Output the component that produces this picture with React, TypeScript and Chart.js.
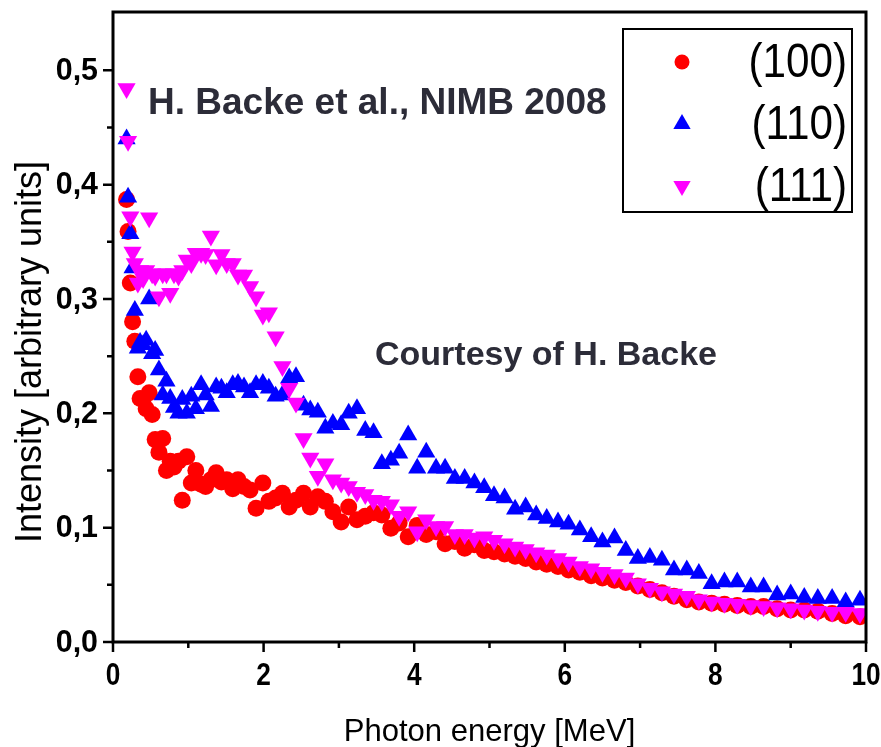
import React, { useEffect, useRef } from 'react';
import { Chart, registerables } from 'chart.js';

Chart.register(...registerables);

// Photon energy bins [MeV]
const energies = [
  0.18, 0.20, 0.23, 0.26, 0.29, 0.33, 0.36, 0.40, 0.44, 0.48,
  0.52, 0.56, 0.61, 0.66, 0.71, 0.76, 0.81, 0.87, 0.92, 0.98,
  1.04, 1.10, 1.17, 1.23, 1.30, 1.37, 1.44, 1.51, 1.59, 1.66,
  1.74, 1.82, 1.90, 1.99, 2.07, 2.16, 2.25, 2.34, 2.43, 2.53,
  2.62, 2.72, 2.82, 2.92, 3.03, 3.13, 3.24, 3.35, 3.46, 3.57,
  3.69, 3.80, 3.92, 4.04, 4.16, 4.29, 4.41, 4.54, 4.67, 4.80,
  4.93, 5.06, 5.20, 5.34, 5.48, 5.62, 5.76, 5.91, 6.05, 6.20,
  6.35, 6.50, 6.66, 6.81, 6.97, 7.13, 7.29, 7.45, 7.62, 7.78,
  7.95, 8.12, 8.29, 8.47, 8.64, 8.82, 9.00, 9.18, 9.36, 9.55,
  9.73, 9.92,
];

// (100) intensity
const intensity100 = [
  0.387, 0.359, 0.314, 0.280, 0.263, 0.232, 0.213, 0.212, 0.204, 0.218,
  0.199, 0.177, 0.166, 0.178, 0.150, 0.158, 0.153, 0.158, 0.124, 0.162,
  0.139, 0.150, 0.138, 0.136, 0.142, 0.148, 0.140, 0.142, 0.134, 0.142,
  0.136, 0.133, 0.117, 0.139, 0.123, 0.126, 0.130, 0.118, 0.124, 0.130,
  0.118, 0.127, 0.123, 0.114, 0.105, 0.118, 0.107, 0.110, 0.113, 0.111,
  0.0995, 0.104, 0.092, 0.102, 0.094, 0.0965, 0.086, 0.088, 0.082, 0.085,
  0.080, 0.079, 0.077, 0.075, 0.073, 0.070, 0.068, 0.066, 0.063, 0.061,
  0.058, 0.056, 0.054, 0.052, 0.049, 0.046, 0.043, 0.040, 0.037, 0.035,
  0.034, 0.033, 0.032, 0.031, 0.031, 0.029, 0.028, 0.028, 0.027, 0.025,
  0.023, 0.022,
];

// (110) intensity
const intensity110 = [
  0.440, 0.389, 0.357, 0.327, 0.290, 0.257, 0.262, 0.260, 0.264, 0.300,
  0.252, 0.255, 0.238, 0.216, 0.228, 0.213, 0.205, 0.200, 0.212, 0.200,
  0.215, 0.204, 0.225, 0.216, 0.206, 0.223, 0.222, 0.218, 0.225, 0.226,
  0.223, 0.218, 0.225, 0.226, 0.222, 0.215, 0.216, 0.231, 0.232, 0.207,
  0.203, 0.201, 0.187, 0.191, 0.190, 0.200, 0.204, 0.185, 0.183, 0.156,
  0.159, 0.165, 0.181, 0.152, 0.166, 0.152, 0.152, 0.143, 0.143, 0.139,
  0.135, 0.128, 0.126, 0.116, 0.118, 0.111, 0.108, 0.105, 0.103, 0.098,
  0.092, 0.0875, 0.091, 0.080, 0.073, 0.074, 0.0715, 0.063, 0.063, 0.060,
  0.051, 0.0525, 0.0525, 0.048, 0.048, 0.041, 0.042, 0.039, 0.038, 0.038,
  0.035, 0.0365,
];

// (111) intensity
const intensity111 = [
  0.484, 0.438, 0.372, 0.341, 0.331, 0.314, 0.325, 0.318, 0.325, 0.371,
  0.322, 0.320, 0.302, 0.322, 0.322, 0.305, 0.322, 0.320, 0.325, 0.334,
  0.331, 0.340, 0.340, 0.339, 0.355, 0.330, 0.339, 0.331, 0.331, 0.321,
  0.321, 0.311, 0.302, 0.286, 0.288, 0.267, 0.241, 0.222, 0.209, 0.178,
  0.161, 0.145, 0.156, 0.142, 0.139, 0.136, 0.131, 0.129, 0.124, 0.123,
  0.120, 0.110, 0.114, 0.0965, 0.107, 0.101, 0.101, 0.094, 0.094, 0.091,
  0.092, 0.089, 0.086, 0.083, 0.081, 0.078, 0.076, 0.073, 0.070, 0.066,
  0.064, 0.061, 0.059, 0.056, 0.051, 0.047, 0.044, 0.042, 0.040, 0.037,
  0.035, 0.034, 0.033, 0.032, 0.031, 0.030, 0.029, 0.028, 0.027, 0.026,
  0.026, 0.025,
];

const seriesLabels = ['(100)', '(110)', '(111)'];
const seriesColors = ['#ff0000', '#0000ff', '#ff00ff'];

const xMajorTicks = [0, 2, 4, 6, 8, 10];
const xMinorTicks = [1, 3, 5, 7, 9];
const yMajorTicks = [0, 0.1, 0.2, 0.3, 0.4, 0.5];
const yMinorTicks = [0.05, 0.15, 0.25, 0.35, 0.45];
const yTickLabels = ['0,0', '0,1', '0,2', '0,3', '0,4', '0,5'];

const xTitle = 'Photon energy [MeV]';
const yTitle = 'Intensity [arbitrary units]';
const annotation1 = 'H. Backe et al., NIMB 2008';
const annotation2 = 'Courtesy of H. Backe';

const FONT = '"Liberation Sans", Arial, sans-serif';

function drawText(
  ctx: CanvasRenderingContext2D,
  text: string,
  x: number,
  y: number,
  font: string,
  align: CanvasTextAlign,
  sx: number,
  color: string,
  baseline: CanvasTextBaseline = 'middle',
  rotate = 0
) {
  ctx.save();
  ctx.translate(x, y);
  if (rotate) ctx.rotate(rotate);
  ctx.scale(sx, 1);
  ctx.font = font;
  ctx.fillStyle = color;
  ctx.textAlign = align;
  ctx.textBaseline = baseline;
  ctx.fillText(text, 0, 0);
  ctx.restore();
}

function drawMarker(ctx: CanvasRenderingContext2D, style: string, x: number, y: number, r: number, color: string, rot: number) {
  ctx.save();
  ctx.fillStyle = color;
  ctx.beginPath();
  if (style === 'circle') {
    ctx.arc(x, y, r, 0, Math.PI * 2);
  } else {
    const dir = rot === 180 ? -1 : 1;
    ctx.moveTo(x, y - dir * r);
    ctx.lineTo(x + r * Math.sin(Math.PI / 3), y + dir * r / 2);
    ctx.lineTo(x - r * Math.sin(Math.PI / 3), y + dir * r / 2);
    ctx.closePath();
  }
  ctx.fill();
  ctx.restore();
}

const originPlugin = {
  id: 'originDecor',
  afterDatasetsDraw(chart: any) {
    const { ctx, chartArea: a, scales } = chart;
    const xs = scales.x;
    const ys = scales.y;
    ctx.save();
    // frame
    ctx.strokeStyle = '#000';
    ctx.lineWidth = 3;
    ctx.strokeRect(a.left, a.top, a.right - a.left, a.bottom - a.top);
    ctx.lineWidth = 2.5;
    ctx.beginPath();
    xMajorTicks.forEach((v) => {
      const px = xs.getPixelForValue(v);
      ctx.moveTo(px, a.bottom);
      ctx.lineTo(px, a.bottom + 10);
    });
    xMinorTicks.forEach((v) => {
      const px = xs.getPixelForValue(v);
      ctx.moveTo(px, a.bottom);
      ctx.lineTo(px, a.bottom + 6);
    });
    yMajorTicks.forEach((v) => {
      const py = ys.getPixelForValue(v);
      ctx.moveTo(a.left, py);
      ctx.lineTo(a.left - 10, py);
    });
    yMinorTicks.forEach((v) => {
      const py = ys.getPixelForValue(v);
      ctx.moveTo(a.left, py);
      ctx.lineTo(a.left - 6, py);
    });
    ctx.stroke();

    // tick labels
    xMajorTicks.forEach((v) => {
      drawText(ctx, String(v), xs.getPixelForValue(v), a.bottom + 34, `bold 32px ${FONT}`, 'center', 0.82, '#000');
    });
    yMajorTicks.forEach((v, i) => {
      drawText(ctx, yTickLabels[i], a.left - 15, ys.getPixelForValue(v) + 1, `bold 32px ${FONT}`, 'right', 0.95, '#000');
    });

    // axis titles
    drawText(ctx, xTitle, (a.left + a.right) / 2, 741, `32px ${FONT}`, 'center', 0.97, '#000', 'alphabetic');
    drawText(ctx, yTitle, 41, (a.top + a.bottom) / 2 + 25, `36px ${FONT}`, 'center', 1, '#000', 'alphabetic', -Math.PI / 2);

    // annotations
    drawText(ctx, annotation1, a.left + 35, a.top + 102, `bold 37px ${FONT}`, 'left', 1, '#2c2c38', 'alphabetic');
    drawText(ctx, annotation2, a.left + 262, a.top + 353, `bold 34px ${FONT}`, 'left', 1, '#2c2c38', 'alphabetic');

    // legend
    const lx = a.left + 510;
    const ly = a.top + 17;
    const lw = 229;
    const lh = 183;
    ctx.fillStyle = '#fff';
    ctx.fillRect(lx, ly, lw, lh);
    ctx.lineWidth = 2;
    ctx.strokeStyle = '#000';
    ctx.strokeRect(lx, ly, lw, lh);
    chart.data.datasets.forEach((ds: any, i: number) => {
      const rowY = ly + 33 + i * 62;
      drawMarker(ctx, ds.pointStyle, lx + 59, rowY, ds.pointStyle === 'circle' ? 7.5 : 10, ds.backgroundColor, ds.rotation || 0);
      drawText(ctx, ds.label, lx + lw - 5, rowY + 2, `48px ${FONT}`, 'right', 0.88, '#000');
    });
    ctx.restore();
  },
};

function makeData(values: number[]) {
  return energies.map((e, i) => ({ x: e, y: values[i] }));
}

export default function App() {
  const canvasRef = useRef<HTMLCanvasElement | null>(null);

  useEffect(() => {
    const canvas = canvasRef.current;
    if (!canvas) return;
    const chart = new Chart(canvas, {
      type: 'scatter',
      data: {
        datasets: [
          {
            label: seriesLabels[0],
            data: makeData(intensity100),
            pointStyle: 'circle',
            backgroundColor: seriesColors[0],
            borderColor: seriesColors[0],
            borderWidth: 0,
            pointRadius: 8.5,
            order: 2,
          },
          {
            label: seriesLabels[1],
            data: makeData(intensity110),
            pointStyle: 'triangle',
            backgroundColor: seriesColors[1],
            borderColor: seriesColors[1],
            borderWidth: 0,
            pointRadius: 10.5,
            order: 1,
          },
          {
            label: seriesLabels[2],
            data: makeData(intensity111),
            pointStyle: 'triangle',
            rotation: 180,
            backgroundColor: seriesColors[2],
            borderColor: seriesColors[2],
            borderWidth: 0,
            pointRadius: 10.5,
            order: 0,
          },
        ] as any,
      },
      options: {
        responsive: false,
        animation: false,
        layout: { padding: { left: 113, top: 12, right: 15, bottom: 105 } },
        plugins: { legend: { display: false }, tooltip: { enabled: false } },
        scales: {
          x: { type: 'linear', min: 0, max: 10, display: false },
          y: { type: 'linear', min: 0, max: 0.551, display: false },
        },
      },
      plugins: [originPlugin],
    });
    return () => chart.destroy();
  }, []);

  return (
    <div style={{ position: 'absolute', left: 0, top: 0, width: 881, height: 747, background: '#fff' }}>
      <canvas ref={canvasRef} width={881} height={747} />
    </div>
  );
}
